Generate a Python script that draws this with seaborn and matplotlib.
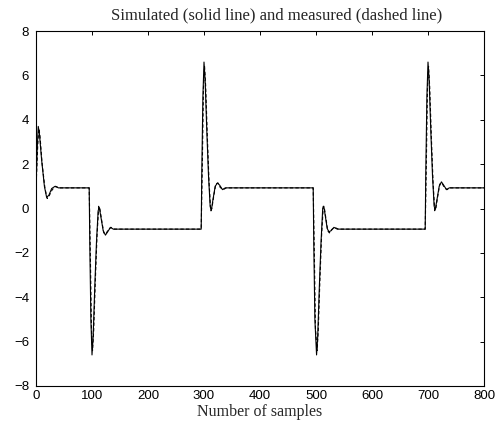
import matplotlib
matplotlib.use("Agg")
import pandas as pd
import seaborn as sns
from matplotlib import pyplot as plt

# Simulated output (solid line): sample index and value
sim_samples = [
    0, 2, 4, 6, 10, 15, 19, 23, 28, 34, 40,
    95, 96, 98, 100, 102, 105, 108, 111, 113, 116, 120, 124, 128, 133, 138,
    295, 296, 298, 300, 302, 305, 308, 311, 313, 316, 320, 324, 328, 333, 338,
    495, 496, 498, 501, 503, 506, 509, 512, 514, 517, 520, 523, 527, 532, 538,
    695, 696, 698, 700, 702, 705, 708, 711, 713, 716, 720, 724, 728, 733, 738,
    800,
]
sim_values = [
    0.9, 2.6, 3.7, 3.4, 2.2, 1.0, 0.5, 0.6, 0.9, 1.0, 0.93,
    0.93, -1.5, -5.0, -6.6, -5.8, -3.5, -1.5, -0.1, 0.05, -0.4, -1.0, -1.2, -1.05, -0.85, -0.93,
    -0.93, 1.5, 5.0, 6.6, 5.8, 3.5, 1.5, 0.1, -0.1, 0.4, 1.0, 1.15, 1.05, 0.85, 0.93,
    0.93, -1.5, -5.0, -6.6, -5.8, -3.5, -1.5, 0.0, 0.1, -0.4, -0.9, -1.05, -1.0, -0.85, -0.93,
    -0.93, 1.5, 5.0, 6.6, 5.8, 3.5, 1.5, 0.1, -0.05, 0.4, 1.0, 1.2, 1.05, 0.85, 0.93,
    0.93,
]

# Measured output (dashed line)
meas_samples = [
    0, 3, 5, 7, 11, 16, 20, 24, 29, 35, 41,
    95, 97, 99, 101, 103, 106, 109, 112, 114, 117, 121, 125, 129, 134, 140,
    295, 297, 299, 301, 303, 306, 309, 312, 314, 317, 321, 325, 329, 334, 340,
    495, 497, 499, 502, 504, 507, 510, 513, 515, 518, 521, 524, 528, 533, 540,
    695, 697, 699, 701, 703, 706, 709, 712, 714, 717, 721, 725, 729, 734, 740,
    800,
]
meas_values = [
    0.9, 2.8, 3.6, 3.3, 2.0, 0.9, 0.45, 0.6, 0.85, 1.0, 0.93,
    0.93, -2.0, -5.4, -6.4, -5.5, -3.2, -1.2, 0.1, 0.0, -0.5, -1.1, -1.15, -0.95, -0.85, -0.93,
    -0.93, 2.0, 5.4, 6.4, 5.5, 3.2, 1.2, -0.1, 0.0, 0.5, 1.1, 1.15, 0.95, 0.85, 0.93,
    0.93, -2.0, -5.4, -6.4, -5.5, -3.2, -1.2, 0.1, 0.0, -0.5, -1.0, -1.1, -0.95, -0.85, -0.93,
    -0.93, 2.0, 5.4, 6.4, 5.5, 3.2, 1.2, -0.1, 0.0, 0.5, 1.1, 1.15, 0.95, 0.85, 0.93,
    0.93,
]

sim_df = pd.DataFrame({"sample": sim_samples, "value": sim_values})
meas_df = pd.DataFrame({"sample": meas_samples, "value": meas_values})

sns.set_style("white")
plt.rcParams["font.family"] = ["Liberation Sans", "DejaVu Sans"]

fig = plt.figure(figsize=(5.03, 4.30), dpi=100)
ax = fig.add_axes([36 / 503, 1 - 386 / 430, 448 / 503, 355 / 430])

sns.lineplot(data=meas_df, x="sample", y="value", estimator=None, sort=False,
             color="black", linewidth=0.8, dashes=False, linestyle=(0, (3, 2)), ax=ax)
sns.lineplot(data=sim_df, x="sample", y="value", estimator=None, sort=False,
             color="black", linewidth=0.8, ax=ax)

ax.set_xlim(0, 800)
ax.set_ylim(-8, 8)
ax.set_xticks(range(0, 801, 100))
ax.set_yticks(range(-8, 9, 2))
ax.tick_params(direction="in", length=3, width=0.7, top=True, right=True,
               labelsize=9.5, colors="black", pad=3)
ax.tick_params(axis="y", pad=5)
for sp in ax.spines.values():
    sp.set_color("black")
    sp.set_linewidth(0.8)

ax.set_xlabel("Number of samples", family="Liberation Serif", fontsize=11.5, labelpad=1)
ax.set_ylabel("")
ax.set_title("Simulated (solid line) and measured (dashed line)",
             family="Liberation Serif", fontsize=12, x=0.537, pad=8)

fig.savefig("out.png", dpi=100)
